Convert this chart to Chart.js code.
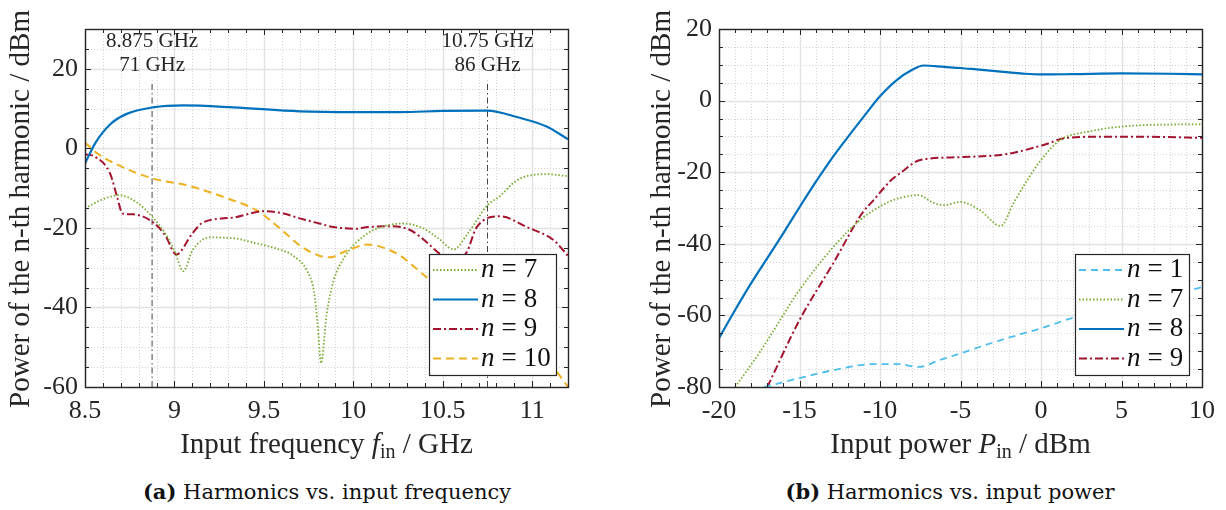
<!DOCTYPE html>
<html>
<head>
<meta charset="utf-8">
<script src="https://cdn.jsdelivr.net/npm/chart.js@4.4.1/dist/chart.umd.min.js"></script>
<style>
body { margin: 0; background: #fff; }
#wrap { position: relative; width: 1226px; height: 510px; overflow: hidden; background: #fff; }
canvas { position: absolute; top: 0; }
.cap { position: absolute; top: 479px; width: 500px; font-family: "DejaVu Serif"; font-size: 21px; color: #111; text-align: center; white-space: nowrap; }
</style>
</head>
<body>
<div id="wrap">
  <canvas id="chartA" width="610" height="470" style="left:0"></canvas>
  <canvas id="chartB" width="616" height="470" style="left:610px"></canvas>
  <div class="cap" style="left:77px"><b>(a)</b> Harmonics vs. input frequency</div>
  <div class="cap" style="left:700px"><b>(b)</b> Harmonics vs. input power</div>
</div>
<script>
// ---- (a) harmonics vs input frequency (GHz -> dBm)
var freq7 = [8.5, 8.6, 8.69, 8.79, 8.88, 8.95, 9.0, 9.05, 9.1, 9.2, 9.33, 9.45, 9.57, 9.66, 9.74, 9.78, 9.8, 9.82, 9.85, 9.89, 9.95, 10.0, 10.11, 10.28, 10.39, 10.48, 10.56, 10.64, 10.75, 10.82, 10.9, 10.97, 11.08, 11.2];
var pow7  = [-15.1, -12.8, -11.8, -13.6, -17.4, -21.5, -25.7, -30.9, -25.7, -22.4, -22.6, -23.8, -25.2, -26.9, -30.7, -36, -44, -54, -42, -33.2, -27.4, -24.4, -20.6, -18.9, -20.1, -22.8, -25.4, -21.4, -14.3, -12, -8.5, -7, -6.5, -7];

var freq8 = [8.5, 8.56, 8.64, 8.73, 8.88, 9.05, 9.33, 9.7, 10.0, 10.26, 10.5, 10.75, 10.92, 11.08, 11.2];
var pow8  = [-3.8, 1.5, 6, 8.6, 10.3, 10.8, 10.3, 9.3, 9.1, 9.1, 9.4, 9.5, 7.8, 5.5, 2.3];

var freq9 = [8.5, 8.56, 8.64, 8.68, 8.71, 8.77, 8.88, 8.95, 9.01, 9.1, 9.16, 9.33, 9.5, 9.61, 9.7, 9.81, 9.89, 10.02, 10.08, 10.22, 10.32, 10.41, 10.48, 10.55, 10.63, 10.69, 10.82, 10.97, 11.12, 11.2];
var pow9  = [-1.5, -2.2, -6.3, -12.3, -16.4, -16.6, -18.6, -22, -26.7, -21.4, -18.6, -17.4, -15.8, -16.4, -17.6, -18.9, -19.8, -20.2, -19.8, -19.6, -20.6, -23.6, -26.4, -28, -26.4, -19.8, -17.1, -19.8, -23.1, -27];

var freq10 = [8.5, 8.56, 8.69, 8.88, 9.07, 9.31, 9.46, 9.6, 9.7, 9.81, 9.87, 9.95, 10.08, 10.15, 10.26, 10.41, 10.6, 10.8, 11.0, 11.13, 11.2];
var pow10  = [1.5, -1, -4.3, -7.6, -9.3, -12.8, -15.6, -20.5, -24.4, -27, -27.4, -26, -24.2, -24.7, -26.9, -32.4, -38, -44, -50, -55.8, -60];

var xTicksA = [8.5, 9, 9.5, 10, 10.5, 11];
var yTicksA = [-60, -40, -20, 0, 20];
var markerFreqs = [8.875, 10.75];
var markerLabels = [['8.875 GHz', '71 GHz'], ['10.75 GHz', '86 GHz']];
var markerSpan = [-60, 17];
var harmonicsA = [7, 8, 9, 10];

// ---- (b) harmonics vs input power (dBm -> dBm)
var pin1 = [-17.2, -15, -12.9, -10.4, -8.9, -7.6, -6.3, -5, -2.5, 0, 2.1, 5, 7.5, 9.5, 10];
var out1 = [-80, -77.5, -75.3, -73.6, -73.6, -74.4, -72.5, -70.6, -66.9, -63.6, -60.5, -57.5, -55, -52.7, -52.1];

var pin7 = [-19, -17.5, -15, -12.9, -11.25, -9.6, -8.76, -7.6, -6.7, -6.05, -5, -3.8, -2.5, -1.7, -0.85, 0, 1.2, 2.9, 5.75, 10];
var out7 = [-80, -70.5, -52.9, -40.9, -33.4, -28.6, -27.2, -26.4, -28.5, -29.2, -28.3, -30.6, -35, -28.6, -22.2, -16.6, -11.0, -8.7, -7.0, -6.6];

var pin8 = [-20, -19, -18, -17, -16, -15, -14, -13, -12, -11, -10, -9, -8, -7.3, -6, -5, -4, -3, -2, -1, 0, 2, 5, 8, 10];
var out8 = [-66.4, -58.5, -51, -44, -37, -29.8, -22.8, -16.2, -10.2, -4.4, 1.2, 5.6, 8.6, 9.8, 9.4, 9.1, 8.7, 8.3, 7.9, 7.5, 7.3, 7.4, 7.6, 7.5, 7.3];

var pin9 = [-17, -15, -12.9, -11.1, -10.4, -9.3, -8.75, -7.5, -5, -2.1, 0.15, 1.6, 3.7, 6, 10];
var out9 = [-80, -61.3, -45.4, -31.4, -27.8, -22.2, -20.3, -16.6, -15.8, -14.9, -12.4, -10.4, -10.1, -10.1, -10.4];

var xTicksB = [-20, -15, -10, -5, 0, 5, 10];
var yTicksB = [-80, -60, -40, -20, 0, 20];
var harmonicsB = [1, 7, 8, 9];

// ---- styles
var INK = '#262626';
var SERIF = '"Liberation Serif", "DejaVu Serif", serif';
var styleOf = {
    1:  { color: '#4DBEEE', width: 1.8, dash: [7, 5] },
    7:  { color: '#77AC30', width: 1.8, dash: [1.5, 2] },
    8:  { color: '#0072BD', width: 2.2, dash: [] },
    9:  { color: '#A2142F', width: 2.0, dash: [8, 3, 2, 3] },
    10: { color: '#EDB120', width: 2.0, dash: [8, 5] }
};

function pts(xs, ys) {
    return xs.map(function(x, i) { return { x: x, y: ys[i] }; });
}

function series(n, xs, ys) {
    var s = styleOf[n];
    return {
        label: 'n = ' + n,
        data: pts(xs, ys),
        borderColor: s.color,
        borderWidth: s.width,
        borderDash: s.dash,
        pointRadius: 0,
        fill: false,
        cubicInterpolationMode: 'monotone'
    };
}

// draw text made of runs (italic, subscript) centred on cx
function drawRuns(ctx, runs, cx, y, size) {
    var widths = runs.map(function(r) {
        ctx.font = (r.italic ? 'italic ' : '') + Math.round(size * (r.scale || 1)) + 'px ' + SERIF;
        return ctx.measureText(r.t).width;
    });
    var total = widths.reduce(function(a, b) { return a + b; }, 0);
    var x = cx - total / 2;
    ctx.textAlign = 'left';
    ctx.textBaseline = 'alphabetic';
    runs.forEach(function(r, i) {
        ctx.font = (r.italic ? 'italic ' : '') + Math.round(size * (r.scale || 1)) + 'px ' + SERIF;
        ctx.fillText(r.t, x, y + (r.dy || 0));
        x += widths[i];
    });
}

function steps(min, max, step, fn) {
    var k0 = Math.ceil(min / step - 1e-9), k1 = Math.floor(max / step + 1e-9);
    for (var k = k0; k <= k1; k++) fn(k * step);
}
function isMajor(v, major) {
    var r = v / major;
    return Math.abs(r - Math.round(r)) < 1e-6;
}

function framePlugin(cfg) {
    return {
        id: 'frame',
        beforeDatasetsDraw: function(chart) {
            var ctx = chart.ctx, a = chart.chartArea, sx = chart.scales.x, sy = chart.scales.y;
            ctx.save();
            ctx.lineWidth = 1;
            // minor dotted grid
            ctx.strokeStyle = 'rgba(0,0,0,0.17)';
            ctx.setLineDash([1, 2]);
            steps(sx.min, sx.max, cfg.xMinor, function(v) {
                if (isMajor(v, cfg.xMajor)) return;
                var p = Math.round(sx.getPixelForValue(v)) + 0.5;
                ctx.beginPath(); ctx.moveTo(p, a.top); ctx.lineTo(p, a.bottom); ctx.stroke();
            });
            steps(sy.min, sy.max, cfg.yMinor, function(v) {
                if (isMajor(v, cfg.yMajor)) return;
                var p = Math.round(sy.getPixelForValue(v)) + 0.5;
                ctx.beginPath(); ctx.moveTo(a.left, p); ctx.lineTo(a.right, p); ctx.stroke();
            });
            // major solid grid
            ctx.setLineDash([]);
            ctx.strokeStyle = '#e2e2e2';
            ctx.lineWidth = 1.5;
            steps(sx.min, sx.max, cfg.xMajor, function(v) {
                var p = Math.round(sx.getPixelForValue(v)) + 0.5;
                ctx.beginPath(); ctx.moveTo(p, a.top); ctx.lineTo(p, a.bottom); ctx.stroke();
            });
            steps(sy.min, sy.max, cfg.yMajor, function(v) {
                var p = Math.round(sy.getPixelForValue(v)) + 0.5;
                ctx.beginPath(); ctx.moveTo(a.left, p); ctx.lineTo(a.right, p); ctx.stroke();
            });
            ctx.restore();
        },
        afterDatasetsDraw: function(chart) {
            var ctx = chart.ctx, a = chart.chartArea, sx = chart.scales.x, sy = chart.scales.y;
            ctx.save();
            ctx.strokeStyle = INK;
            ctx.lineWidth = 1;
            steps(sx.min, sx.max, cfg.xMinor, function(v) {
                var L = isMajor(v, cfg.xMajor) ? 6 : 4;
                var p = Math.round(sx.getPixelForValue(v)) + 0.5;
                ctx.beginPath();
                ctx.moveTo(p, a.bottom); ctx.lineTo(p, a.bottom - L);
                ctx.moveTo(p, a.top); ctx.lineTo(p, a.top + L);
                ctx.stroke();
            });
            steps(sy.min, sy.max, cfg.yMinor, function(v) {
                var L = isMajor(v, cfg.yMajor) ? 6 : 4;
                var p = Math.round(sy.getPixelForValue(v)) + 0.5;
                ctx.beginPath();
                ctx.moveTo(a.left, p); ctx.lineTo(a.left + L, p);
                ctx.moveTo(a.right, p); ctx.lineTo(a.right - L, p);
                ctx.stroke();
            });
            ctx.lineWidth = 1.4;
            ctx.strokeRect(Math.round(a.left) + 0.5, Math.round(a.top) + 0.5, Math.round(a.right - a.left), Math.round(a.bottom - a.top));
            ctx.restore();
        },
        afterDraw: function(chart) {
            var ctx = chart.ctx, a = chart.chartArea, sx = chart.scales.x;
            ctx.save();
            ctx.fillStyle = INK;
            // axis titles
            drawRuns(ctx, cfg.xTitle, (a.left + a.right) / 2, 453, 29);
            ctx.save();
            ctx.translate(cfg.yTitleX, (a.top + a.bottom) / 2 + 1);
            ctx.rotate(-Math.PI / 2);
            drawRuns(ctx, [{ t: 'Power of the n-th harmonic / dBm' }], 0, 0, 29);
            ctx.restore();
            // marker labels
            if (cfg.markers) {
                ctx.font = '21px ' + SERIF;
                ctx.textAlign = 'center';
                cfg.markers.forEach(function(f, i) {
                    var px = sx.getPixelForValue(f);
                    ctx.fillText(cfg.markerText[i][0], px, 47);
                    ctx.fillText(cfg.markerText[i][1], px, 71);
                });
            }
            // legend
            var lg = cfg.legend;
            ctx.fillStyle = '#fff';
            ctx.fillRect(lg.x, lg.y, lg.w, lg.h);
            ctx.strokeStyle = INK;
            ctx.lineWidth = 1.2;
            ctx.strokeRect(lg.x + 0.5, lg.y + 0.5, lg.w, lg.h);
            lg.items.forEach(function(n, i) {
                var s = styleOf[n];
                var cy = lg.y + 16 + i * 29.5;
                ctx.save();
                ctx.strokeStyle = s.color;
                ctx.lineWidth = s.width;
                ctx.setLineDash(s.dash);
                ctx.beginPath();
                ctx.moveTo(lg.x + 4, cy); ctx.lineTo(lg.x + 49, cy);
                ctx.stroke();
                ctx.restore();
                ctx.fillStyle = '#111';
                ctx.textAlign = 'left';
                ctx.textBaseline = 'middle';
                var tx = lg.x + 52;
                ctx.font = 'italic 27px ' + SERIF;
                ctx.fillText('n', tx, cy);
                tx += ctx.measureText('n').width + 7;
                ctx.font = '27px ' + SERIF;
                ctx.fillText('=', tx, cy);
                tx += ctx.measureText('=').width + 7;
                ctx.fillText(String(n), tx, cy);
            });
            ctx.restore();
        }
    };
}

function axisOpts(min, max, ticks, isX, fitSize, pad) {
    var o = {
        type: 'linear',
        min: min,
        max: max,
        grid: { display: false, drawTicks: false },
        border: { display: false },
        afterBuildTicks: function(s) { s.ticks = ticks.map(function(v) { return { value: v }; }); },
        ticks: {
            font: { family: SERIF, size: 26 },
            color: INK,
            padding: pad,
            autoSkip: false,
            maxRotation: 0,
            callback: function(v) { return String(v); }
        }
    };
    if (isX) o.afterFit = function(s) { s.height = fitSize; };
    else o.afterFit = function(s) { s.width = fitSize; };
    return o;
}

function makeChart(id, datasets, x, y, padRight, frameCfg) {
    return new Chart(document.getElementById(id).getContext('2d'), {
        type: 'line',
        data: { datasets: datasets },
        options: {
            responsive: false,
            animation: false,
            layout: { padding: { left: 0, top: 29, right: padRight, bottom: 0 } },
            plugins: { legend: { display: false }, tooltip: { enabled: false } },
            scales: {
                x: axisOpts(x.min, x.max, x.ticks, true, 83, 9),
                y: axisOpts(y.min, y.max, y.ticks, false, x.left, 7)
            }
        },
        plugins: [framePlugin(frameCfg)]
    });
}

// chart (a)
var dsA = [
    series(7, freq7, pow7),
    series(8, freq8, pow8),
    series(9, freq9, pow9),
    series(10, freq10, pow10)
];
markerFreqs.forEach(function(f) {
    dsA.push({
        label: 'marker',
        data: pts([f, f], markerSpan),
        borderColor: '#444',
        borderWidth: 1,
        borderDash: [6, 3, 1.5, 3],
        pointRadius: 0
    });
});
makeChart('chartA', dsA,
    { min: 8.5, max: 11.2, ticks: xTicksA, left: 85 },
    { min: -60, max: 30, ticks: yTicksA },
    42,
    {
        xMinor: 0.1, xMajor: 0.5, yMinor: 5, yMajor: 20,
        xTitle: [{ t: 'Input frequency ' }, { t: 'f', italic: true }, { t: 'in', scale: 0.7, dy: 5 }, { t: ' / GHz' }],
        yTitleX: 29,
        markers: markerFreqs, markerText: markerLabels,
        legend: { x: 429, y: 254, w: 127, h: 121, items: harmonicsA }
    });

// chart (b)
var dsB = [
    series(1, pin1, out1),
    series(7, pin7, out7),
    series(8, pin8, out8),
    series(9, pin9, out9)
];
makeChart('chartB', dsB,
    { min: -20, max: 10, ticks: xTicksB, left: 109 },
    { min: -80, max: 20, ticks: yTicksB },
    24,
    {
        xMinor: 1, xMajor: 5, yMinor: 5, yMajor: 20,
        xTitle: [{ t: 'Input power ' }, { t: 'P', italic: true }, { t: 'in', scale: 0.7, dy: 5 }, { t: ' / dBm' }],
        yTitleX: 60,
        legend: { x: 465, y: 254, w: 114, h: 121, items: harmonicsB }
    });
</script>
</body>
</html>
